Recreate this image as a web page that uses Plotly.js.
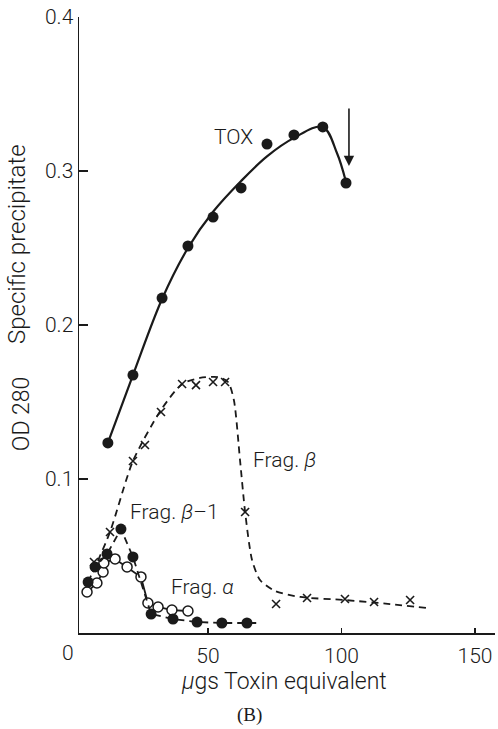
<!DOCTYPE html>
<html>
<head>
<meta charset="utf-8">
<script src="https://cdn.plot.ly/plotly-3.0.1.min.js"></script>
<style>html,body{margin:0;padding:0;background:#fff;}#chart{width:498px;height:729px;}</style>
</head>
<body>
<div id="chart"></div>
<script>
// TOX (specific precipitate) measured points
const toxX = [12.5, 21.9, 32.8, 42.5, 51.9, 62.4, 72.1, 82.2, 93.0, 101.7];
const toxY = [0.1234, 0.1675, 0.2175, 0.2513, 0.2701, 0.2890, 0.3175, 0.3234, 0.3286, 0.2922];
// TOX hand-drawn curve
const toxCurveX = [12.5, 21.9, 32.8, 42.5, 51.9, 62.4, 72.1, 82.2, 93.0, 98.3, 101.7];
const toxCurveY = [0.1234, 0.1675, 0.2169, 0.2500, 0.2735, 0.2935, 0.3095, 0.3215, 0.3286, 0.3117, 0.2929];

// Frag. beta (x marks)
const betaX = [7.3, 13.3, 21.9, 26.4, 32.4, 40.3, 45.5, 51.9, 56.4, 63.9, 75.5, 87.1, 101.3, 112.2, 125.7];
const betaY = [0.0461, 0.0656, 0.1117, 0.1221, 0.1435, 0.1617, 0.1610, 0.1630, 0.1630, 0.0786, 0.0188, 0.0227, 0.0221, 0.0201, 0.0214];
// Frag. beta hand-drawn dashed curve
const betaCurveX = [6.9, 13.3, 21.9, 32.4, 40.3, 47.0, 53.7, 57.5, 59.7, 62.0, 63.9, 66.5, 69.5, 75.1, 84.5, 101.3, 118.2, 132.4];
const betaCurveY = [0.0396, 0.0656, 0.1117, 0.1448, 0.1617, 0.1656, 0.1662, 0.1630, 0.1513, 0.1123, 0.0786, 0.0474, 0.0344, 0.0273, 0.0234, 0.0214, 0.0188, 0.0162];

// Frag. beta-1 (filled circles, dashed)
const beta1X = [5.1, 7.7, 12.2, 17.4, 21.9, 28.7, 36.9, 45.9, 55.2, 64.6, 68.7];
const beta1Y = [0.0331, 0.0429, 0.0513, 0.0675, 0.0494, 0.0123, 0.0091, 0.0071, 0.0065, 0.0065, 0.0065];
const beta1Marked = 10;

// Frag. alpha (open circles, solid)
const alphaX = [4.7, 8.4, 10.7, 11.0, 15.2, 19.7, 24.9, 27.5, 31.3, 36.5, 42.5];
const alphaY = [0.0266, 0.0325, 0.0396, 0.0455, 0.0481, 0.0429, 0.0364, 0.0195, 0.0169, 0.0149, 0.0143];

const xTicks = [50, 100, 150];
const xTickText = ['50', '100', '150'];
const yTicks = [0.1, 0.2, 0.3, 0.4];
const yTickText = ['0.1', '0.2', '0.3', '0.4'];

const ink = '#1a1a1a';
const sans = 'Roboto, Liberation Sans, Arial, sans-serif';
const fs = 21;
const tf = {family: sans, size: fs, color: ink, weight: 300};
const titleFont = {family: sans, size: 23, color: ink, weight: 300};

const traces = [
  {x: toxCurveX, y: toxCurveY, mode: 'lines', line: {color: ink, width: 2.2, shape: 'spline', smoothing: 1}, hoverinfo: 'skip'},
  {x: toxX, y: toxY, mode: 'markers', marker: {color: ink, size: 11, symbol: 'circle'}},
  {x: betaCurveX, y: betaCurveY, mode: 'lines', line: {color: ink, width: 1.8, dash: '7px,5px', shape: 'spline', smoothing: 0.7}, hoverinfo: 'skip'},
  {x: betaX, y: betaY, mode: 'markers', marker: {color: ink, size: 8, symbol: 'x-thin', line: {color: ink, width: 1.6}}},
  {x: alphaX, y: alphaY, mode: 'lines+markers', line: {color: ink, width: 1.8}, marker: {color: '#fff', size: 10, symbol: 'circle', line: {color: ink, width: 1.5}}},
  {x: beta1X, y: beta1Y, mode: 'lines', line: {color: ink, width: 1.8, dash: '7px,5px'}},
  {x: beta1X.slice(0, beta1Marked), y: beta1Y.slice(0, beta1Marked), mode: 'markers', marker: {color: ink, size: 11, symbol: 'circle'}}
];

const layout = {
  width: 498, height: 729,
  margin: {l: 79, r: 3, t: 17, b: 96},
  paper_bgcolor: '#fff', plot_bgcolor: '#fff',
  showlegend: false,
  font: tf,
  xaxis: {
    range: [1.69, 157.5], showgrid: false, zeroline: false,
    showline: true, linecolor: ink, linewidth: 1.5,
    tickmode: 'array', tickvals: xTicks, ticktext: xTickText,
    ticks: 'inside', ticklen: 5, tickwidth: 1.2, tickcolor: ink,
    tickfont: tf, ticklabelstandoff: 3
  },
  yaxis: {
    range: [0, 0.4], showgrid: false, zeroline: false,
    showline: true, linecolor: ink, linewidth: 1.5,
    tickmode: 'array', tickvals: yTicks, ticktext: yTickText,
    ticks: 'inside', ticklen: 9, tickwidth: 1.2, tickcolor: ink,
    tickfont: tf
  },
  annotations: [
    {xref: 'paper', yref: 'paper', x: -0.026, y: -0.0325, text: '0', showarrow: false, font: tf, xanchor: 'center', yanchor: 'middle'},
    {xref: 'paper', yref: 'paper', x: 0.4926, y: -0.0795, text: '<i>μ</i>gs Toxin equivalent', showarrow: false, font: titleFont, xanchor: 'center', yanchor: 'middle'},
    {xref: 'paper', yref: 'paper', x: 0.411, y: -0.133, text: '(B)', showarrow: false, font: {family: 'Liberation Serif, Times New Roman, serif', size: 19, color: ink}, xanchor: 'center', yanchor: 'middle'},
    {xref: 'paper', yref: 'paper', x: -0.149, y: 0.6315, text: 'Specific precipitate', textangle: -90, showarrow: false, font: {family: sans, size: 24, color: ink, weight: 300}, xanchor: 'center', yanchor: 'middle'},
    {xref: 'paper', yref: 'paper', x: -0.139, y: 0.3555, text: 'OD 280', textangle: -90, showarrow: false, font: titleFont, xanchor: 'center', yanchor: 'middle'},
    {xref: 'x', yref: 'y', x: 59.4, y: 0.3221, text: 'TOX', showarrow: false, font: tf},
    {xref: 'x', yref: 'y', x: 78.8, y: 0.1123, text: 'Frag. <i>β</i>', showarrow: false, font: tf},
    {xref: 'x', yref: 'y', x: 37.6, y: 0.0786, text: 'Frag. <i>β</i>–1', showarrow: false, font: tf},
    {xref: 'x', yref: 'y', x: 47.8, y: 0.0299, text: 'Frag. <i>α</i>', showarrow: false, font: tf},
    {xref: 'x', yref: 'y', x: 102.8, y: 0.3032, ax: 0, ay: -59, text: '', showarrow: true, arrowhead: 2, arrowsize: 1.3, arrowwidth: 1.6, arrowcolor: ink}
  ]
};

Plotly.newPlot('chart', traces, layout, {staticPlot: true, displayModeBar: false});
</script>
</body>
</html>
